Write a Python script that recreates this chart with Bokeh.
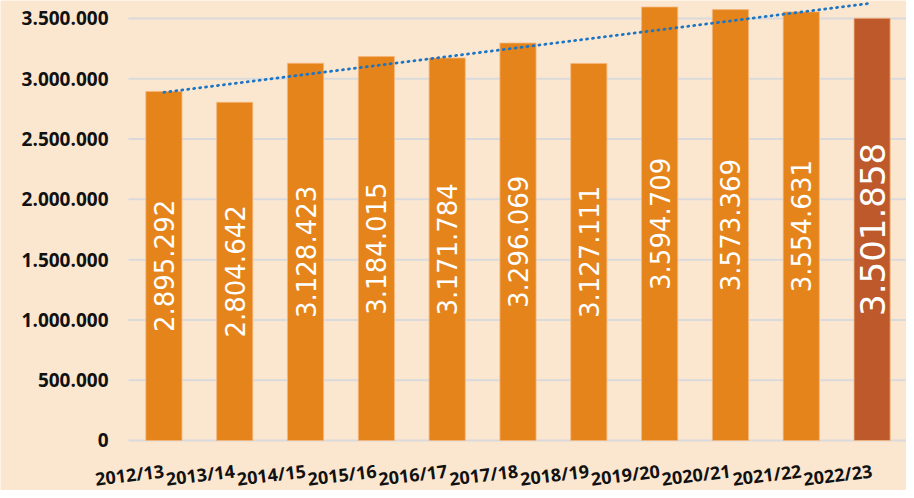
import numpy as np
from bokeh.plotting import figure
from bokeh.models import ColumnDataSource, Range1d, FixedTicker
from bokeh.core.properties import value
from bokeh.embed import file_html
from bokeh.resources import INLINE

seasons = ["2012/13", "2013/14", "2014/15", "2015/16", "2016/17", "2017/18",
           "2018/19", "2019/20", "2020/21", "2021/22", "2022/23"]
values = [2895292, 2804642, 3128423, 3184015, 3171784, 3296069,
          3127111, 3594709, 3573369, 3554631, 3501858]
y_ticks = [0, 500000, 1000000, 1500000, 2000000, 2500000, 3000000, 3500000]

BG = "#FBE7D0"
ORANGE = "#E5841A"
HIGHLIGHT = "#BD592B"


def fmt(v):
    return f"{v:,}".replace(",", ".")


n = len(values)
idx = list(range(n))
colors = [ORANGE] * (n - 1) + [HIGHLIGHT]
src = ColumnDataSource(dict(x=idx, top=values, color=colors))

# linear trend from the data
slope, intercept = np.polyfit(np.array(idx, dtype=float), np.array(values, dtype=float), 1)
trend = list(intercept + slope * np.array(idx))

# the frame covers the whole figure; axes are pinned at the category band edge / y = 0
X_LEFT, X_RIGHT = -2.3074, 10.486
band_lo, band_hi = -0.5, n - 0.5
p = figure(x_range=Range1d(X_LEFT, X_RIGHT),
           y_range=Range1d(-414700, 3649000),
           frame_width=906, frame_height=490,
           output_backend="svg", toolbar_location=None,
           min_border_left=0, min_border_right=0, min_border_top=0,
           min_border_bottom=0)
p.background_fill_color = BG
p.border_fill_color = BG
p.outline_line_color = None
p.xgrid.grid_line_color = None
p.ygrid.grid_line_color = None

# horizontal grid lines at the y ticks, spanning the category band only
p.segment(x0=[band_lo] * len(y_ticks), x1=[band_hi] * len(y_ticks),
          y0=y_ticks, y1=y_ticks, line_color="#DADADC", line_width=2)

p.vbar(x="x", top="top", width=0.51, source=src, fill_color="color",
       line_color="#F6B57A", line_width=1, line_alpha=0.8)

p.line(x=idx, y=trend, line_color="#1B75C4", line_width=2.8,
       line_dash="1 5", line_cap="round")

n_main = n - 1
src_main = ColumnDataSource(dict(x=idx[:n_main], y=[v / 2 for v in values[:n_main]],
                                 t=[fmt(v) for v in values[:n_main]]))
src_last = ColumnDataSource(dict(x=idx[n_main:], y=[v / 2 for v in values[n_main:]],
                                 t=[fmt(v) for v in values[n_main:]]))
p.text(x="x", y="y", text="t", source=src_main, angle=np.pi / 2,
       text_align="center", text_baseline="middle", text_color="white",
       text_font=value("DejaVu Sans"), text_font_size="26px")
p.text(x="x", y="y", text="t", source=src_last, angle=np.pi / 2,
       text_align="center", text_baseline="middle", text_color="white",
       text_font=value("DejaVu Sans"), text_font_size="34px")

p.yaxis.ticker = FixedTicker(ticks=y_ticks)
p.yaxis.major_label_overrides = {t: fmt(t) for t in y_ticks}
p.xaxis.ticker = FixedTicker(ticks=idx)
p.xaxis.major_label_overrides = {i: s for i, s in zip(idx, seasons)}
for ax in (p.xaxis, p.yaxis):
    ax.axis_line_color = None
    ax.major_tick_line_color = None
    ax.minor_tick_line_color = None
    ax.major_tick_out = 0
    ax.major_tick_in = 0
    ax.major_label_text_color = "#111111"
    ax.major_label_text_font = "Open Sans"
    ax.major_label_text_font_style = "bold"
p.yaxis.fixed_location = band_lo
p.yaxis.major_label_text_font_size = "19px"
p.yaxis.major_label_standoff = 20
p.xaxis.fixed_location = 0
p.xaxis.major_label_text_font_size = "18px"
p.xaxis.major_label_orientation = 0.12
p.xaxis.major_label_standoff = 30

open("out.html", "w").write(file_html(p, INLINE))
